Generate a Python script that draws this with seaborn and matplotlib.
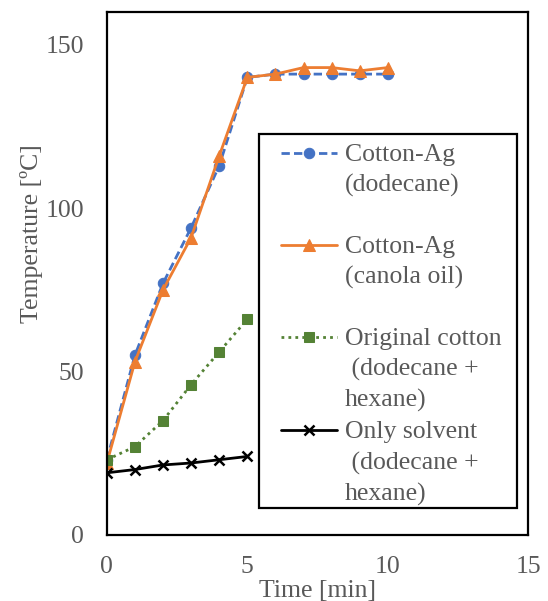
import matplotlib
matplotlib.use("Agg")
import matplotlib.pyplot as plt
from matplotlib.patches import Rectangle
import seaborn as sns
import pandas as pd

time_min = [0, 1, 2, 3, 4, 5, 6, 7, 8, 9, 10]
cotton_ag_dodecane = [23, 55, 77, 94, 113, 140, 141, 141, 141, 141, 141]
cotton_ag_canola = [22, 53, 75, 91, 116, 140, 141, 143, 143, 142, 143]
time_short = [0, 1, 2, 3, 4, 5]
original_cotton = [23, 27, 35, 46, 56, 66]
only_solvent = [19, 20, 21.4, 22, 23, 24]

labels = ["Cotton-Ag\n(dodecane)\n ",
          "Cotton-Ag\n(canola oil)\n ",
          "Original cotton\n (dodecane +\nhexane)",
          "Only solvent\n (dodecane +\nhexane)"]

sns.set_style("white")
plt.rcParams['font.family'] = ['Liberation Serif', 'DejaVu Serif']
TXT = "#595959"

fig = plt.figure(figsize=(5.48, 6.01), dpi=100)
ax = fig.add_axes([0.195, 0.110, 0.769, 0.870])

df1 = pd.DataFrame({"t": time_min, "T": cotton_ag_dodecane})
df2 = pd.DataFrame({"t": time_min, "T": cotton_ag_canola})
df3 = pd.DataFrame({"t": time_short, "T": original_cotton})
df4 = pd.DataFrame({"t": time_short, "T": only_solvent})

sns.lineplot(data=df1, x="t", y="T", ax=ax, color="#4472C4", lw=2.0,
             linestyle=(0, (3, 1.5)), marker="o", markersize=7.5, mec="#4472C4",
             label=labels[0])
sns.lineplot(data=df2, x="t", y="T", ax=ax, color="#ED7D31", lw=2.0,
             marker="^", markersize=8.5, mec="#ED7D31", label=labels[1])
sns.lineplot(data=df3, x="t", y="T", ax=ax, color="#548235", lw=2.0,
             linestyle=(0, (1, 1.5)), marker="s", markersize=6.5, mec="#548235",
             label=labels[2])
sns.lineplot(data=df4, x="t", y="T", ax=ax, color="black", lw=2.0,
             marker="x", markersize=7, mew=1.8, mec="black", label=labels[3])

ax.set_xlim(0, 15)
ax.set_ylim(0, 160)
ax.set_xticks([0, 5, 10, 15])
ax.set_yticks([0, 50, 100, 150])
ax.tick_params(direction="in", length=6, width=1.3, colors="black",
               labelcolor=TXT, labelsize=18.5)
ax.tick_params(axis="y", pad=16.5)
ax.tick_params(axis="x", pad=15.5)
for s in ax.spines.values():
    s.set_visible(True)
    s.set_color("black")
    s.set_linewidth(1.6)

ax.set_xlabel("Time [min]", fontsize=18.5, color=TXT, labelpad=1)
ax.set_ylabel("Temperature [ºC]", fontsize=18.5, color=TXT)
ax.yaxis.set_label_coords(-0.152, 0.576)

# legend frame
ax.add_patch(Rectangle((0.361, 0.052), 0.613, 0.715, transform=ax.transAxes,
                       facecolor="white", edgecolor="black", lw=1.6, zorder=4.5))
leg = ax.legend(loc="upper left", bbox_to_anchor=(0.413, 0.748),
                borderaxespad=0, fontsize=18.5, frameon=False,
                handlelength=2.2, handletextpad=0.28,
                labelspacing=0.35, borderpad=0.0)
leg.set_zorder(5)
for t in leg.get_texts():
    t.set_color(TXT)
    t.set_linespacing(1.46)
for col in leg._legend_handle_box.get_children():
    for item in col.get_children():
        item.align = "top"

fig.savefig("out.png", dpi=100)
